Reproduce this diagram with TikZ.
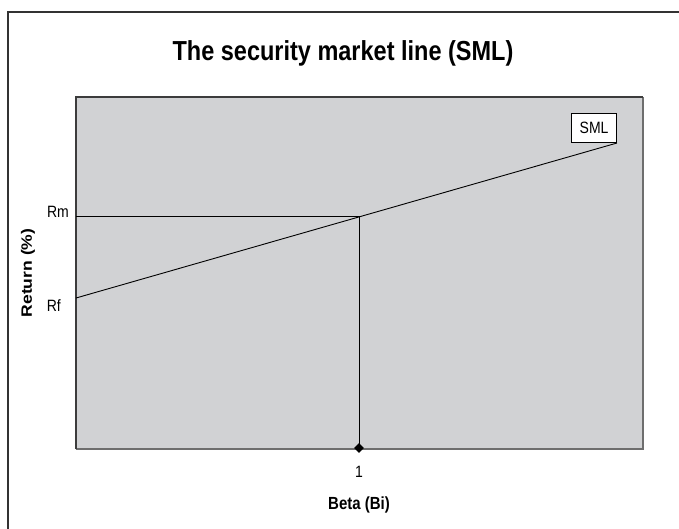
\documentclass[tikz,border=0pt]{standalone}
\usepackage{fontspec}
\usepackage{graphicx}
\setmainfont{Liberation Sans}
\usetikzlibrary{shapes.geometric}
\definecolor{plotbg}{RGB}{209,210,212}
\definecolor{framegray}{RGB}{51,51,51}
\definecolor{edgedark}{RGB}{60,60,60}
\definecolor{edgelight}{RGB}{110,110,110}
% text is set slightly taller than wide
\newcommand{\tall}[1]{\scalebox{1}[1.17]{#1}}
\newcommand{\longtxt}[1]{\scalebox{1.17}[1]{#1}}
\tikzset{
  lbl/.style={inner sep=0pt, font=\fontsize{14}{16}\selectfont},
  boldlbl/.style={inner sep=0pt, font=\fontsize{15}{17}\selectfont\bfseries},
  dataline/.style={black, line width=0.9pt},
}
\begin{document}
\begin{tikzpicture}[x=1pt,y=-1pt]
  \useasboundingbox (0,0) rectangle (679,528);
  \clip (0,0) rectangle (679,528);
  % white page and outer chart frame (runs past the right and bottom edges)
  \fill[white] (0,0) rectangle (679,528);
  \draw[framegray, line width=2pt] (8,12) rectangle (700,560);

  % title
  \node[inner sep=0pt, font=\fontsize{23.5}{26}\selectfont\bfseries] (title) at (343,53) {\tall{The security market line (SML)}};

  % plot area
  \fill[plotbg] (76,97) rectangle (643,449);
  \draw[edgelight, line width=2.6pt] (643,97) -- (643,449) -- (76,449);
  \draw[edgedark, line width=1.3pt] (76,449) -- (76,97) -- (643,97);

  % points on the plot
  \coordinate (rf) at (76,298);
  \coordinate (rmaxis) at (76,216);
  \coordinate (mkt) at (359,216);
  \node[diamond, fill=black, inner sep=0pt, minimum size=10pt] (beta1) at (359,448) {};

  % SML label box
  \node[draw=black, fill=white, line width=0.8pt, anchor=south east,
        minimum width=45pt, minimum height=29pt, inner sep=0pt,
        font=\fontsize{14}{16}\selectfont] (smlbox) at (617,143) {\tall{SML}};

  % the security market line and the market reference lines
  \draw[dataline] (rf) -- (smlbox.south east);
  \draw[dataline] (rmaxis) -- (mkt);
  \draw[dataline] (mkt) -- (beta1.center);

  % axis labels
  \node[lbl, anchor=east] (rmlbl) at (69,212) {\tall{Rm}};
  \node[lbl, anchor=east] (rflbl) at (61,306) {\tall{Rf}};
  \node[lbl] (onelbl) at (359,472) {\tall{1}};
  \node[boldlbl] (xlabel) at (359,505) {\tall{Beta (Bi)}};
  \node[boldlbl, rotate=90] (ylabel) at (28,273) {\longtxt{Return (\%)}};
\end{tikzpicture}
\end{document}
